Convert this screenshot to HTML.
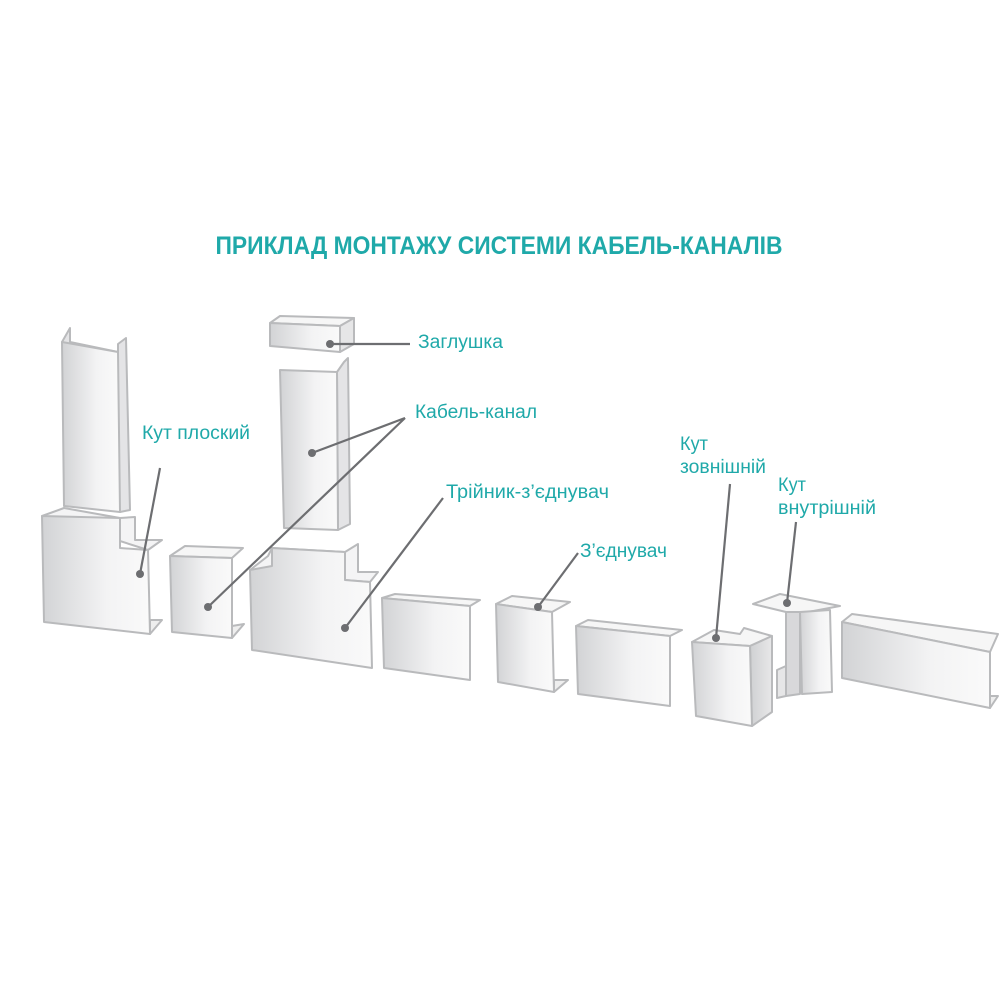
<!DOCTYPE html>
<html><head><meta charset="utf-8"><style>
html,body{margin:0;padding:0;background:#fff;width:1000px;height:1000px;overflow:hidden}
svg{display:block}
.t{font-family:"Liberation Sans Narrow","Liberation Sans",sans-serif;fill:#1fa9a9}
</style></head><body>
<svg width="1000" height="1000" viewBox="0 0 1000 1000">
<defs>
<linearGradient id="g" x1="0" x2="1" y1="0" y2="0"><stop offset="0" stop-color="#d2d3d5"/><stop offset="0.6" stop-color="#f3f3f4"/><stop offset="1" stop-color="#fafafa"/></linearGradient>
<linearGradient id="s" x1="0" x2="1"><stop offset="0" stop-color="#cfd0d2"/><stop offset="1" stop-color="#e8e8e9"/></linearGradient>
</defs>
<g stroke="#b9babc" stroke-width="2" stroke-linejoin="round">
<polygon points="62,342 70,328 70,342 118,352 118,344 126,338 130,510 120,512" fill="#e4e4e6"/>
<polygon points="62,342 118,352 120,512 64,506" fill="url(#g)"/>
<polygon points="42,516 64,508 120,518 135,517 135,540 162,540 148,550" fill="#f4f4f5"/>
<polygon points="42,516 120,518 120,548 148,550 150,634 44,622" fill="url(#g)"/>
<polygon points="150,620 162,620 150,634" fill="#eee"/>
<polygon points="170,556 185,546 243,548 232,558" fill="#f6f6f6"/>
<polygon points="170,556 232,558 232,638 172,632" fill="url(#g)"/>
<polygon points="232,626 244,624 232,638" fill="#eee"/>
<polygon points="270,323 280,316 354,318 340,326" fill="#f6f6f6"/>
<polygon points="340,326 354,318 354,344 340,352" fill="#e6e6e7"/>
<polygon points="270,323 340,326 340,352 270,346" fill="url(#g)"/>
<polygon points="337,372 344,362 348,358 350,524 338,530" fill="#e4e4e6"/>
<polygon points="280,370 337,372 338,530 284,528" fill="url(#g)"/>
<polygon points="250,570 268,556 272,548 345,552 358,544 358,572 378,572 370,582 345,580" fill="#f4f4f5"/>
<polygon points="250,570 272,566 272,548 345,552 345,580 370,582 372,668 252,650" fill="url(#g)"/>
<polygon points="382,598 395,594 480,600 470,606" fill="#f6f6f6"/>
<polygon points="382,598 470,606 470,680 384,668" fill="url(#g)"/>
<polygon points="496,604 512,596 570,602 552,612" fill="#f6f6f6"/>
<polygon points="496,604 552,612 554,692 498,682" fill="url(#g)"/>
<polygon points="554,680 568,680 554,692" fill="#eee"/>
<polygon points="576,626 588,620 682,630 670,636" fill="#f6f6f6"/>
<polygon points="576,626 670,636 670,706 578,694" fill="url(#g)"/>
<polygon points="692,642 714,630 740,634 744,628 772,636 750,646" fill="#f6f6f6"/>
<polygon points="750,646 772,636 772,712 752,726" fill="url(#s)"/>
<polygon points="692,642 750,646 752,726 696,716" fill="url(#g)"/>
<polygon points="753,604 780,594 840,606 808,612 786,612" fill="#f6f6f6"/>
<polygon points="777,670 786,666 786,696 777,698" fill="#e6e6e7"/>
<polygon points="786,612 800,612 800,694 786,696" fill="#d8d8da"/>
<polygon points="800,612 830,610 832,692 802,694" fill="url(#g)"/>
<polygon points="842,622 852,614 998,634 990,652" fill="#f6f6f6"/>
<polygon points="842,622 990,652 990,708 842,678" fill="url(#g)"/>
<polygon points="990,696 998,696 990,708" fill="#eee"/>
</g>
<g stroke="#6d6e71" stroke-width="2.2" fill="none">
<line x1="330" y1="344" x2="410" y2="344"/>
<line x1="405" y1="418" x2="312" y2="453"/>
<line x1="405" y1="418" x2="208" y2="607"/>
<line x1="160" y1="468" x2="140" y2="574"/>
<line x1="443" y1="498" x2="345" y2="628"/>
<line x1="578" y1="553" x2="538" y2="607"/>
<line x1="730" y1="484" x2="716" y2="638"/>
<line x1="796" y1="522" x2="787" y2="603"/>
</g>
<g fill="#6d6e71">
<circle cx="330" cy="344" r="4"/><circle cx="312" cy="453" r="4"/><circle cx="208" cy="607" r="4"/>
<circle cx="140" cy="574" r="4"/><circle cx="345" cy="628" r="4"/><circle cx="538" cy="607" r="4"/>
<circle cx="716" cy="638" r="4"/><circle cx="787" cy="603" r="4"/>
</g>
<text class="t" x="499" y="254" text-anchor="middle" font-size="25" font-weight="bold" textLength="567" lengthAdjust="spacingAndGlyphs">ПРИКЛАД МОНТАЖУ СИСТЕМИ КАБЕЛЬ-КАНАЛІВ</text>
<g class="t" font-size="19">
<text x="418" y="348" textLength="85" lengthAdjust="spacingAndGlyphs">Заглушка</text>
<text x="415" y="418" textLength="122" lengthAdjust="spacingAndGlyphs">Кабель-канал</text>
<text x="142" y="439" textLength="108" lengthAdjust="spacingAndGlyphs">Кут плоский</text>
<text x="446" y="498" textLength="163" lengthAdjust="spacingAndGlyphs">Трійник-з’єднувач</text>
<text x="580" y="557" textLength="87" lengthAdjust="spacingAndGlyphs">З’єднувач</text>
<text x="680" y="450" textLength="28" lengthAdjust="spacingAndGlyphs">Кут</text>
<text x="680" y="473" textLength="86" lengthAdjust="spacingAndGlyphs">зовнішній</text>
<text x="778" y="491" textLength="28" lengthAdjust="spacingAndGlyphs">Кут</text>
<text x="778" y="514" textLength="98" lengthAdjust="spacingAndGlyphs">внутрішній</text>
</g>
</svg>
</body></html>
